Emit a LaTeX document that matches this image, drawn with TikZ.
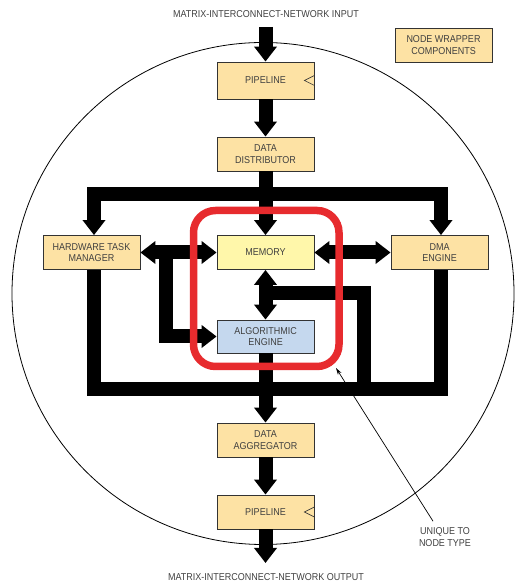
\documentclass[tikz,border=0pt]{standalone}
\usepackage{fontspec}
\setmainfont{Liberation Sans}[FakeStretch=0.9]
\usetikzlibrary{arrows.meta,positioning}
\definecolor{wrapc}{HTML}{FDE2A4}
\definecolor{memc}{HTML}{FFF7AA}
\definecolor{algc}{HTML}{C5D8EE}
\definecolor{txtc}{HTML}{404040}
\definecolor{redc}{HTML}{E72B2E}
\begin{document}
\begin{tikzpicture}[x=1pt, y=1pt, font=\fontsize{10}{11.5}\selectfont, line join=miter,
	box/.style={draw=black!80, line width=0.8pt, fill=wrapc, minimum width=97pt, minimum height=34pt, inner sep=0pt, align=center, text=txtc},
	bus/.style={line width=14pt},
	fat/.style={line width=14pt, -{Triangle[width=22pt,length=15pt]}},
	fatboth/.style={line width=14pt, {Triangle[width=22pt,length=15pt]}-{Triangle[width=22pt,length=15pt]}}]
	\useasboundingbox (0,0) rectangle (514,583);
	% wrapper outline
	\draw[line width=0.8pt] (263,289.5) circle (251);
	% components
	\node[box, minimum height=37pt] (pipein) at (265.5,502.5) {PIPELINE};
	\node[box] (dist) at (265.5,429) {DATA\\DISTRIBUTOR};
	\node[box] (htm) at (91.5,330.5) {HARDWARE TASK\\MANAGER};
	\node[box, fill=memc] (mem) at (265.5,330.5) {MEMORY};
	\node[box] (dma) at (439.5,330.5) {DMA\\ENGINE};
	\node[box, fill=algc, minimum height=33pt] (alg) at (265.5,246.5) {ALGORITHMIC\\ENGINE};
	\node[box] (agg) at (265.5,143) {DATA\\AGGREGATOR};
	\node[box] (pipeout) at (265.5,71) {PIPELINE};
	\node[box] (legend) at (443.5,538) {NODE WRAPPER\\COMPONENTS};
	\foreach \p in {pipein,pipeout}
	\draw[line width=0.6pt, black!80] (\p.east) ++(0,5) -- ++(-10,-5) -- ++(10,-5);
	% texts
	\node[text=txtc] (intxt) at (266,569) {MATRIX-INTERCONNECT-NETWORK INPUT};
	\node[text=txtc] (outtxt) at (266,6) {MATRIX-INTERCONNECT-NETWORK OUTPUT};
	\node[text=txtc, align=center] (uniq) at (445,46) {UNIQUE TO\\NODE TYPE};
	\coordinate (in) at (265.5,556);
	\coordinate (out) at (265.5,20);
	\coordinate (tl) at (94,388.5);
	\coordinate (tr) at (441,388.5);
	\coordinate (bl) at (94,193.5);
	\coordinate (br) at (441,193.5);
	\coordinate (lb) at (166,330.5);
	\coordinate (rb) at (265.5,290);
	\coordinate (rd) at (363.5,193.5);
	% data paths
	\draw[fat] (in) -- (pipein.north);
	\draw[fat] (pipein) -- (dist);
	\draw[fatboth] (htm.north -| tl) |- (tr) -- (dma.north -| tr);
	\draw[fat] (dist.south) -- (mem.north);
	\draw[bus] (htm.south -| bl) -- (bl) -- (br) -- (dma.south -| br);
	\draw[fatboth] (htm) -- (mem);
	\draw[fatboth] (mem) -- (dma);
	\draw[fatboth] (mem) -- (alg);
	\draw[fat] (lb) |- (alg.west);
	\draw[bus] (rb) -| (rd);
	\draw[fat] (alg.south) -- (agg.north);
	\draw[fat] (agg) -- (pipeout);
	\draw[fat] (pipeout.south) -- (out);
	% unique part
	\draw[redc, line width=7.5pt, rounded corners=22pt] (193.5,372.5) rectangle (339,216.5);
	\draw[-{Stealth[length=7pt,width=4pt]}, line width=0.7pt] (uniq.north) ++(-12,3) -- (336,215);
\end{tikzpicture}
\end{document}
